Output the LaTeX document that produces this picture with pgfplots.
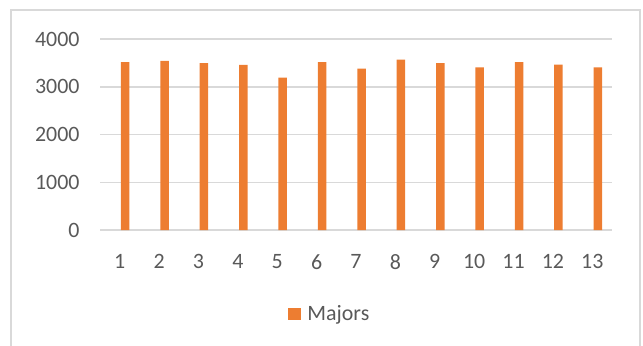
\documentclass[border=0pt]{standalone}
\usepackage{pgfplots}
\pgfplotsset{compat=1.18}
\usepackage{fontspec}
\setmainfont{Carlito}
\definecolor{barorange}{HTML}{ED7D31}
\definecolor{txtgray}{HTML}{595959}
\definecolor{gridgray}{HTML}{D9D9D9}
\begin{document}
\begin{tikzpicture}
\useasboundingbox (0bp,0bp) rectangle (643bp,346bp);
\draw[gridgray, line width=1.5bp] (11bp,-5bp) -- (11bp,336bp) -- (640bp,336bp) -- (640bp,-5bp);
\begin{axis}[
  at={(100bp,116bp)}, anchor=south west,
  scale only axis, width=512bp, height=191bp,
  xmin=0.5, xmax=13.5, ymin=0, ymax=4000,
  ytick={0,1000,2000,3000,4000},
  xtick={1,...,13},
  axis line style={draw=none},
  major tick length=0pt,
  ymajorgrids, grid style={gridgray, line width=1.5bp},
  tick label style={font=\fontsize{22}{26}\selectfont, text=txtgray},
  /pgf/number format/assume math mode=true,
  /pgf/number format/1000 sep={},
  yticklabel style={xshift=-17bp},
  xticklabel style={yshift=-21bp},
  ybar, bar width=8.5bp, bar shift=5.5bp,
  legend style={at={(0.449,-0.44)}, anchor=center, draw=none, fill=none,
    font=\fontsize{22}{26}\selectfont, text=txtgray},
  legend image code/.code={\fill[#1] (0bp,-6bp) rectangle (13bp,6bp); \path (17bp,0bp);},
  clip=false,
]
\addplot[fill=barorange, draw=none] coordinates {
(1,3514) (2,3542) (3,3493) (4,3458) (5,3190) (6,3514) (7,3380)
(8,3570) (9,3493) (10,3408) (11,3514) (12,3465) (13,3408)};
\addlegendentry{Majors}
\end{axis}
\end{tikzpicture}
\end{document}
